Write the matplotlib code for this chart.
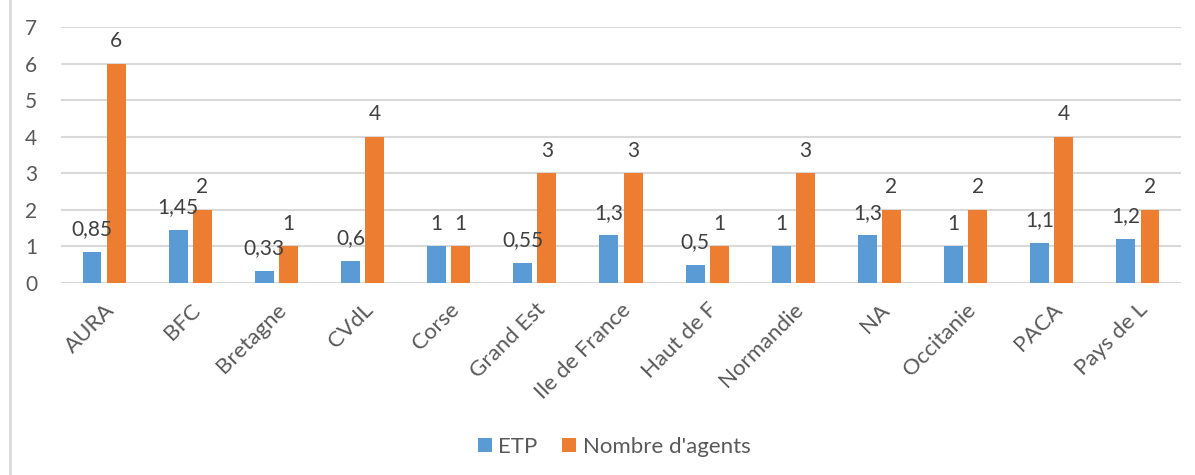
import matplotlib
matplotlib.use("Agg")
import matplotlib.pyplot as plt
from matplotlib.lines import Line2D
import numpy as np

plt.rcParams['font.family'] = ['Lato', 'DejaVu Sans']

regions = ["AURA", "BFC", "Bretagne", "CVdL", "Corse", "Grand Est", "Ile de France",
           "Haut de F", "Normandie", "NA", "Occitanie", "PACA", "Pays de L"]
etp = [0.85, 1.45, 0.33, 0.6, 1, 0.55, 1.3, 0.5, 1, 1.3, 1, 1.1, 1.2]
agents = [6, 2, 1, 4, 1, 3, 3, 1, 3, 2, 2, 4, 2]
yticks = [0, 1, 2, 3, 4, 5, 6, 7]

BLUE = "#5B9BD5"
ORANGE = "#ED7D31"
TEXT = "#595959"
GRID = "#D9D9D9"

fig = plt.figure(figsize=(11.95, 4.75), dpi=100)
ax = fig.add_axes([61 / 1195, 1 - 283 / 475, 1120 / 1195, 256 / 475])

x = np.arange(len(regions))
w = 0.22
off = 0.14
b1 = ax.bar(x - off, etp, w, color=BLUE, label="ETP", zorder=3)
b2 = ax.bar(x + off, agents, w, color=ORANGE, label="Nombre d'agents", zorder=3)


def fmt(v):
    return ("%g" % v).replace(".", ",")


for bars, vals in ((b1, etp), (b2, agents)):
    for rect, v in zip(bars, vals):
        ax.annotate(fmt(v), (rect.get_x() + rect.get_width() / 2, rect.get_height()),
                    xytext=(0, 12), textcoords="offset points",
                    ha="center", va="baseline", fontsize=15, color="#404040")

ax.set_xlim(-0.5, len(regions) - 0.5)
ax.set_ylim(0, 7)
ax.set_yticks(yticks)
ax.set_yticklabels([str(t) for t in yticks])
ax.set_xticks(x)
ax.set_xticklabels(regions, rotation=45, ha="right", rotation_mode="anchor")
ax.tick_params(axis="both", length=0, labelcolor=TEXT)
ax.tick_params(axis="y", pad=17, labelsize=15)
ax.tick_params(axis="x", pad=12, labelsize=16)
ax.grid(axis="y", color=GRID, linewidth=1.5, zorder=0)
for s in ax.spines.values():
    s.set_visible(False)

leg = fig.legend(handles=[b1, b2], loc="center", bbox_to_anchor=(614 / 1195, 1 - 447 / 475),
                 ncol=2, frameon=False, fontsize=16, handlelength=0.63, handleheight=0.63,
                 handletextpad=0.3, columnspacing=1.1)
for t in leg.get_texts():
    t.set_color(TEXT)

fig.add_artist(Line2D([9.5 / 1195, 9.5 / 1195], [0, 1], color=GRID, linewidth=2,
                      transform=fig.transFigure))

fig.savefig("out.png", dpi=100, facecolor="white")
